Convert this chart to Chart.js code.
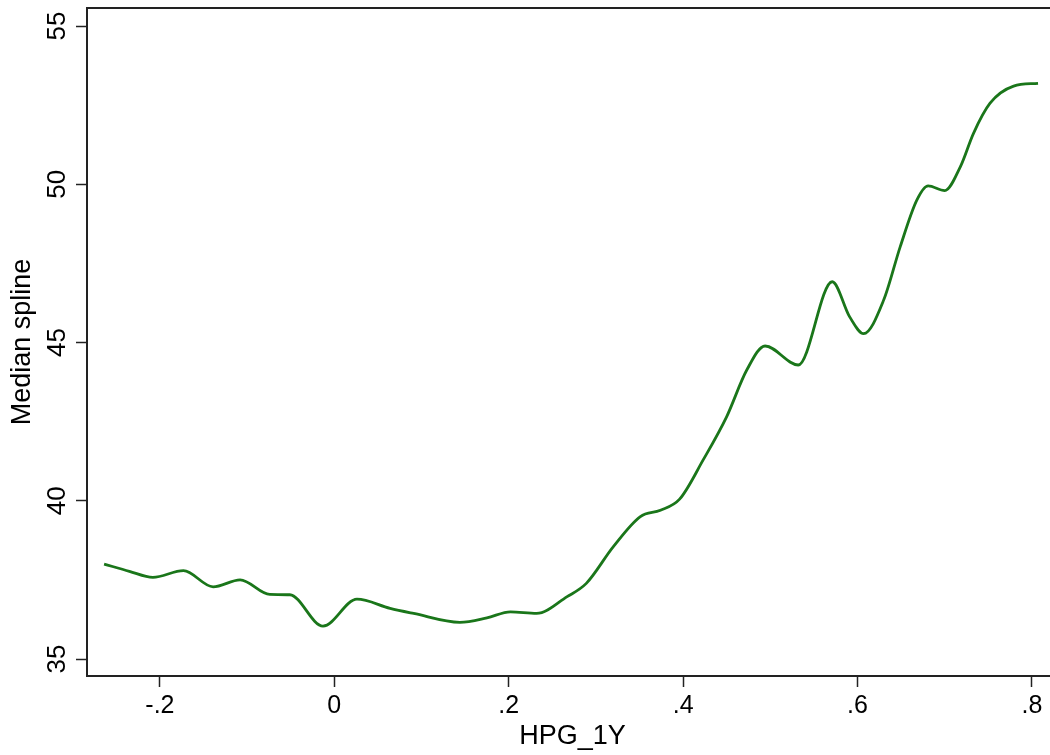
<!DOCTYPE html>
<html>
<head>
<meta charset="utf-8">
<script src="https://cdn.jsdelivr.net/npm/chart.js@4.4.1/dist/chart.umd.min.js"></script>
<style>
  html, body { margin: 0; padding: 0; background: #fff; overflow: hidden; }
  #wrap { width: 1050px; height: 755px; overflow: hidden; }
</style>
</head>
<body>
<div id="wrap"><canvas id="chart" width="1070" height="755"></canvas></div>
<script>
// values
const hpg = [-0.264, -0.235, -0.208, -0.173, -0.139, -0.108, -0.074, -0.051, -0.013,
  0.026, 0.064, 0.091, 0.144, 0.175, 0.202, 0.232, 0.267, 0.289, 0.320, 0.351, 0.374,
  0.396, 0.423, 0.450, 0.473, 0.494, 0.532, 0.571, 0.591, 0.607, 0.630, 0.649, 0.668,
  0.681, 0.700, 0.718, 0.733, 0.752, 0.779, 0.807];
const medianSpline = [38.00, 37.77, 37.58, 37.79, 37.28, 37.50, 37.04, 37.03, 36.04,
  36.89, 36.60, 36.44, 36.16, 36.30, 36.49, 36.44, 36.97, 37.39, 38.55, 39.50, 39.70,
  40.05, 41.29, 42.66, 44.13, 44.89, 44.29, 46.92, 45.81, 45.28, 46.34, 48.03, 49.50,
  49.95, 49.80, 50.56, 51.61, 52.56, 53.10, 53.19];
const xTicks = [-0.2, 0, 0.2, 0.4, 0.6, 0.8];
const yTicks = [35, 40, 45, 50, 55];

const axisColor = '#222';
const font = 'Liberation Sans, Arial, Helvetica, sans-serif';

// plot box like Stata's region outline
const frame = {
  id: 'frame',
  afterDraw(chart) {
    const { ctx, chartArea: a } = chart;
    ctx.save();
    ctx.strokeStyle = axisColor;
    ctx.lineWidth = 2;
    ctx.strokeRect(a.left, a.top, a.right - a.left, a.bottom - a.top);
    ctx.restore();
  }
};

const fmt = (v) => {
  const s = String(+v.toFixed(1));
  return s.replace('0.', '.');
};

new Chart(document.getElementById('chart'), {
  type: 'line',
  data: {
    datasets: [{
      data: hpg.map((x, i) => ({ x: x, y: medianSpline[i] })),
      borderColor: '#1a761a',
      borderWidth: 2.8,
      pointRadius: 0,
      cubicInterpolationMode: 'monotone',
      fill: false
    }]
  },
  options: {
    responsive: false,
    animation: false,
    layout: { padding: { top: 8, right: 12, left: 0, bottom: 0 } },
    plugins: { legend: { display: false }, tooltip: { enabled: false } },
    scales: {
      x: {
        type: 'linear',
        min: -0.2836,
        max: 0.8299,
        afterFit: (s) => { s.height = 79; s.paddingLeft = 0; s.paddingRight = 0; },
        afterBuildTicks: (s) => { s.ticks = xTicks.map(v => ({ value: v })); },
        ticks: { callback: fmt, color: '#000', font: { family: font, size: 25 }, padding: 4, maxRotation: 0 },
        grid: { drawOnChartArea: false, tickLength: 11, tickColor: axisColor, tickWidth: 1.5 },
        border: { color: axisColor, width: 2 },
        title: { display: true, text: 'HPG_1Y', color: '#000', font: { family: font, size: 27 }, padding: { top: 0, bottom: 2 } }
      },
      y: {
        min: 34.463,
        max: 55.569,
        afterFit: (s) => { s.width = 87; s.paddingTop = 0; s.paddingBottom = 0; },
        afterBuildTicks: (s) => { s.ticks = yTicks.map(v => ({ value: v })); },
        ticks: { color: '#000', font: { family: font, size: 26 }, minRotation: 90, maxRotation: 90, crossAlign: 'center', padding: 4 },
        grid: { drawOnChartArea: false, tickLength: 11, tickColor: axisColor, tickWidth: 1.5 },
        border: { color: axisColor, width: 2 },
        title: { display: true, text: 'Median spline', color: '#000', font: { family: font, size: 27 }, padding: { top: 6, bottom: 0 } }
      }
    }
  },
  plugins: [frame]
});
</script>
</body>
</html>
